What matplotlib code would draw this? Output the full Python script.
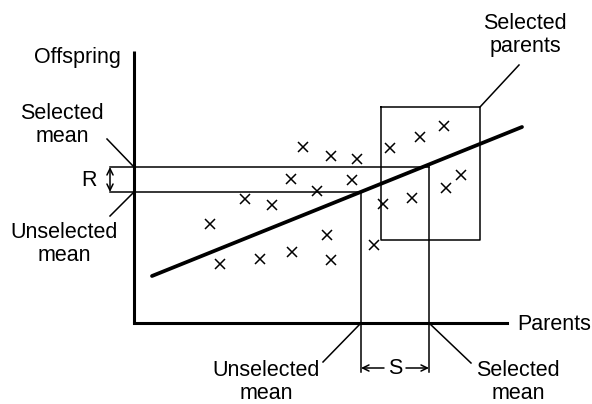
import matplotlib
matplotlib.use("Agg")
import matplotlib.pyplot as plt

# Data (drawing units: parent value on x, offspring value on y, y grows downward)
parents_x = [210, 220, 245, 272, 260, 291, 292, 303, 317, 331, 327, 331, 357, 352,
             374, 383, 390, 412, 420, 444, 446, 461]
offspring_y = [224, 264, 199, 205, 259, 179, 252, 147, 191, 156, 235, 260, 159, 180,
               245, 204, 148, 198, 137, 126, 188, 175]

regression_x = [152, 522]
regression_y = [276, 127]

unselected_parent_mean = 361
selected_parent_mean = 429
unselected_offspring_mean = 192
selected_offspring_mean = 167

selected_box_x = [381, 480]
selected_box_y = [107, 240]

axis_origin = (134, 323)
axis_top = 51
axis_right = 507

plt.rcParams['font.family'] = ['Liberation Sans', 'DejaVu Sans']
fs = 15.5

fig = plt.figure(figsize=(5.92, 4.04), dpi=100)
ax = fig.add_axes([0, 0, 1, 1])
ax.set_xlim(0, 592)
ax.set_ylim(404, 0)
ax.axis('off')

k = 'black'
# axes
ax.plot([axis_origin[0], axis_origin[0]], [axis_top, axis_origin[1]], color=k, lw=2.2,
        solid_capstyle='butt')
ax.plot([axis_origin[0], axis_right], [axis_origin[1], axis_origin[1]], color=k, lw=2.2,
        solid_capstyle='projecting')

# regression line
ax.plot(regression_x, regression_y, color=k, lw=2.7, solid_capstyle='round')

# data points
ax.plot(parents_x, offspring_y, linestyle='none', marker='x', color=k,
        markersize=7.5, markeredgewidth=1.1)

# selected box
bx0, bx1 = selected_box_x
by0, by1 = selected_box_y
ax.plot([bx0, bx1, bx1, bx0, bx0], [by0, by0, by1, by1, by0], color=k, lw=1.1)

# mean lines
lx = 110
bottom = 372
ax.plot([lx, selected_parent_mean], [selected_offspring_mean] * 2, color=k, lw=1.1)
ax.plot([lx, unselected_parent_mean], [unselected_offspring_mean] * 2, color=k, lw=1.1)
ax.plot([selected_parent_mean] * 2, [selected_offspring_mean, bottom], color=k, lw=1.1)
ax.plot([unselected_parent_mean] * 2, [unselected_offspring_mean, bottom], color=k, lw=1.1)

# R arrow
ax.annotate('', xy=(lx, selected_offspring_mean), xytext=(lx, unselected_offspring_mean),
            arrowprops=dict(arrowstyle='<->,head_length=0.45,head_width=0.22', color=k, lw=1.1,
                            shrinkA=0, shrinkB=0))
ax.text(97, (selected_offspring_mean + unselected_offspring_mean) / 2 + 1, 'R',
        fontsize=fs, ha='right', va='center')

# S arrow
sy = 368
smid = (unselected_parent_mean + selected_parent_mean) / 2
ax.text(smid, sy, 'S', fontsize=fs, ha='center', va='center')
for end in (unselected_parent_mean, selected_parent_mean):
    start = smid - 11 if end < smid else smid + 11
    ax.annotate('', xy=(end, sy), xytext=(start, sy),
                arrowprops=dict(arrowstyle='->,head_length=0.45,head_width=0.22', color=k, lw=1.1,
                                shrinkA=0, shrinkB=0))

# pointer lines
ax.plot([107, 134], [139, 167], color=k, lw=1.1)
ax.plot([134, 110], [192, 216], color=k, lw=1.1)
ax.plot([unselected_parent_mean, 323], [323, 362], color=k, lw=1.1)
ax.plot([selected_parent_mean, 471], [323, 363], color=k, lw=1.1)
ax.plot([bx1, 519], [by0, 65], color=k, lw=1.1)

# labels
ax.text(77, 58, 'Offspring', fontsize=fs, ha='center', va='center')
ax.text(62, 125, 'Selected\nmean', fontsize=fs, ha='center', va='center', linespacing=1.15)
ax.text(64, 244, 'Unselected\nmean', fontsize=fs, ha='center', va='center', linespacing=1.15)
ax.text(525, 35, 'Selected\nparents', fontsize=fs, ha='center', va='center', linespacing=1.15)
ax.text(517, 324, 'Parents', fontsize=fs, ha='left', va='center')
ax.text(266, 382, 'Unselected\nmean', fontsize=fs, ha='center', va='center', linespacing=1.15)
ax.text(518, 382, 'Selected\nmean', fontsize=fs, ha='center', va='center', linespacing=1.15)

fig.savefig('out.png', dpi=100)
